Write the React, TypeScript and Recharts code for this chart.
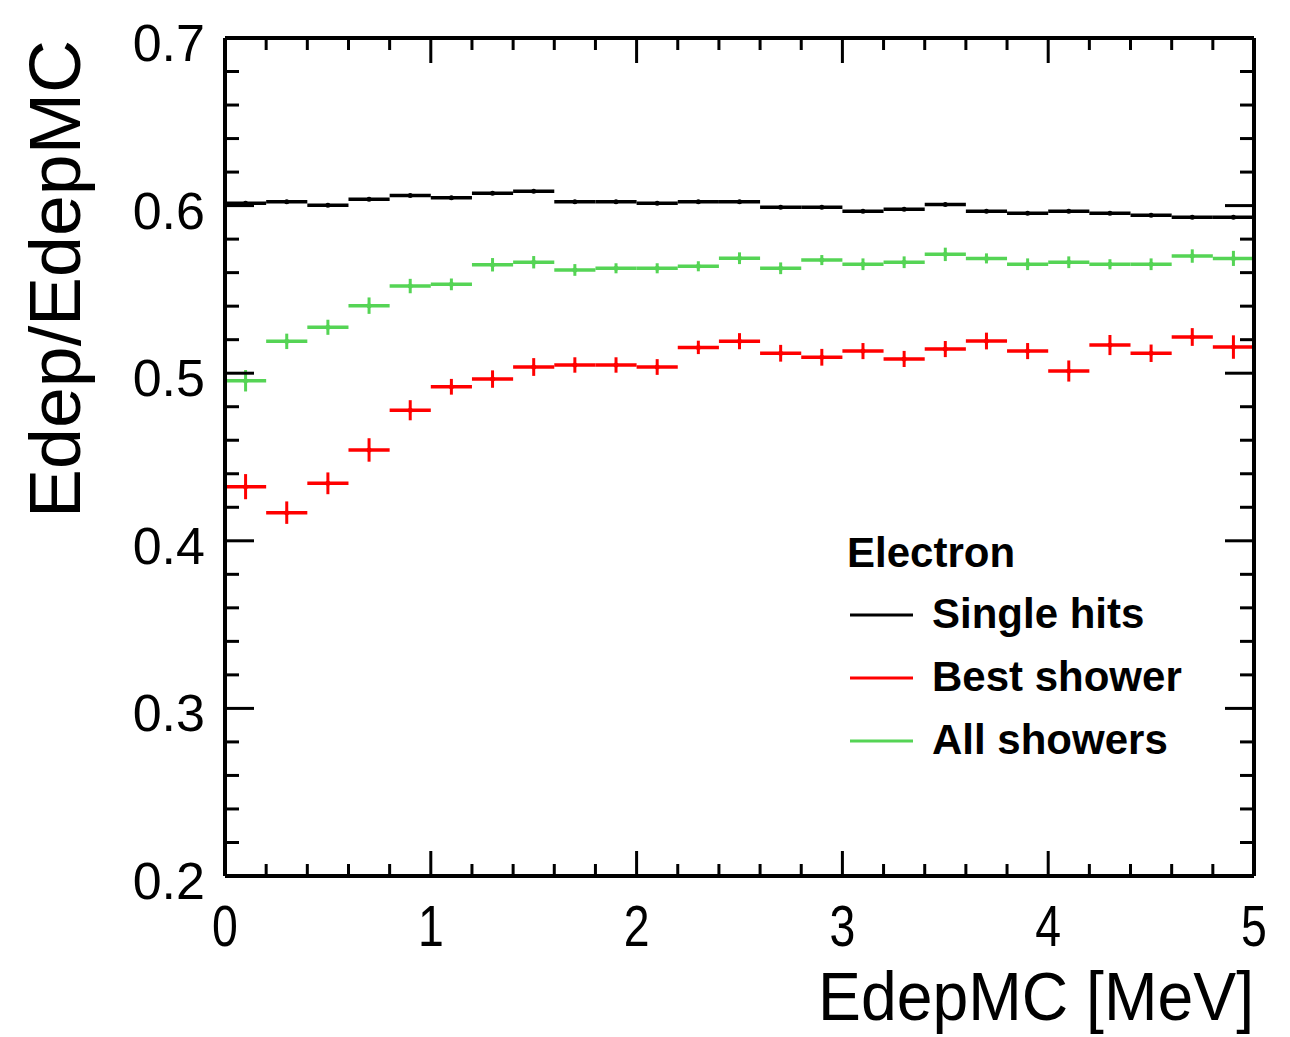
import { ScatterChart, Scatter, XAxis, YAxis, ErrorBar } from 'recharts';

// bin centres, 25 bins of 0.2 MeV
const binCenters = [
  0.1, 0.3, 0.5, 0.7, 0.9, 1.1, 1.3, 1.5, 1.7, 1.9, 2.1, 2.3, 2.5,
  2.7, 2.9, 3.1, 3.3, 3.5, 3.7, 3.9, 4.1, 4.3, 4.5, 4.7, 4.9,
];
const binHalfWidth = 0.1;

const singleHits = [
  0.6014, 0.6023, 0.6002, 0.6038, 0.6061, 0.6047, 0.6073, 0.6085, 0.6023, 0.6023, 0.6014, 0.6023, 0.6023,
  0.599, 0.599, 0.5966, 0.5978, 0.6006, 0.5966, 0.5954, 0.5966, 0.5954, 0.5942, 0.593, 0.593,
];
const singleHitsErr = [
  0.001, 0.0009, 0.0009, 0.0009, 0.0008, 0.0008, 0.0008, 0.0008, 0.0008, 0.0008, 0.0008, 0.0008, 0.0008,
  0.0008, 0.0008, 0.0008, 0.0008, 0.0008, 0.0008, 0.0008, 0.0008, 0.0008, 0.0008, 0.0009, 0.0009,
];

const bestShower = [
  0.4323, 0.4168, 0.4343, 0.4542, 0.4779, 0.4919, 0.4965, 0.5037, 0.5049, 0.5049, 0.5037, 0.5154, 0.5191,
  0.5119, 0.5095, 0.5132, 0.5085, 0.5144, 0.5192, 0.5132, 0.5013, 0.5168, 0.5119, 0.5216, 0.5156,
];
const bestShowerErr = [
  0.0075, 0.0067, 0.0065, 0.007, 0.006, 0.0047, 0.0052, 0.0053, 0.0046, 0.0046, 0.0047, 0.004, 0.0048,
  0.005, 0.005, 0.0048, 0.0048, 0.0048, 0.005, 0.0048, 0.0063, 0.006, 0.0052, 0.0053, 0.007,
];

const allShowers = [
  0.4955, 0.519, 0.5274, 0.5403, 0.552, 0.553, 0.5647, 0.5662, 0.5616, 0.5626, 0.5626, 0.5638, 0.5686,
  0.5626, 0.5675, 0.565, 0.5662, 0.5709, 0.5685, 0.565, 0.5662, 0.565, 0.565, 0.5699, 0.5685,
];
const allShowersErr = [
  0.0064, 0.0046, 0.0045, 0.0049, 0.0043, 0.0035, 0.004, 0.0037, 0.0035, 0.003, 0.003, 0.003, 0.0035,
  0.0035, 0.003, 0.0035, 0.0035, 0.004, 0.003, 0.0035, 0.0035, 0.003, 0.0035, 0.004, 0.0045,
];

const xMajorTicks = [0, 1, 2, 3, 4, 5];
const yMajorTicks = [0.2, 0.3, 0.4, 0.5, 0.6, 0.7];
// minor ticks every 0.2 on x, 0.02 on y
const xTicks = Array.from({ length: 26 }, (_, i) => i / 5);
const yTicks = Array.from({ length: 26 }, (_, i) => (20 + 2 * i) / 100);

const legendTitle = 'Electron';
const seriesNames = ['Single hits', 'Best shower', 'All showers'];
const seriesColors = ['#000000', '#ff0000', '#55d455'];

const toPoints = (vals: number[], errs: number[]) =>
  binCenters.map((x, i) => ({ x, y: vals[i], xerr: binHalfWidth, yerr: errs[i] }));

const series = [
  toPoints(singleHits, singleHitsErr),
  toPoints(bestShower, bestShowerErr),
  toPoints(allShowers, allShowersErr),
];

const W = 1290;
const H = 1037;
const sans = '"Liberation Sans", Arial, Helvetica, sans-serif';

const near = (v: number, list: number[]) => list.some((m) => Math.abs(m - v) < 1e-6);

const BottomTick = ({ x, y, payload }: any) => {
  const major = near(payload.value, xMajorTicks);
  return (
    <g>
      <line x1={x} x2={x} y1={y} y2={y - (major ? 25 : 12)} stroke="#000" strokeWidth={3} />
      {major && (
        // the reference digits are condensed
        <text
          transform={`translate(${x} ${y + 70}) scale(0.8 1)`}
          textAnchor="middle"
          fontFamily={sans}
          fontSize={58}
          fill="#000"
        >
          {payload.value}
        </text>
      )}
    </g>
  );
};

const TopTick = ({ x, y, payload }: any) => {
  const major = near(payload.value, xMajorTicks);
  return <line x1={x} x2={x} y1={y} y2={y + (major ? 25 : 12)} stroke="#000" strokeWidth={3} />;
};

const LeftTick = ({ x, y, payload }: any) => {
  const major = near(payload.value, yMajorTicks);
  return (
    <g>
      <line x1={x} x2={x + (major ? 29 : 14)} y1={y} y2={y} stroke="#000" strokeWidth={3} />
      {major && (
        <text x={x - 20} y={y + 23} textAnchor="end" fontFamily={sans} fontSize={52} fill="#000">
          {payload.value.toFixed(1)}
        </text>
      )}
    </g>
  );
};

const RightTick = ({ x, y, payload }: any) => {
  const major = near(payload.value, yMajorTicks);
  return <line x1={x} x2={x - (major ? 29 : 14)} y1={y} y2={y} stroke="#000" strokeWidth={3} />;
};

const Dot = (color: string) => (props: any) => <circle cx={props.cx} cy={props.cy} r={2.5} fill={color} />;

const App = () => {
  return (
    <div style={{ position: 'absolute', left: 0, top: 0, width: W, height: H, background: '#fff' }}>
      <ScatterChart width={W} height={H} margin={{ top: 0, right: 0, bottom: 0, left: 0 }}>
        <XAxis
          xAxisId="b"
          type="number"
          dataKey="x"
          domain={[0, 5]}
          allowDataOverflow
          ticks={xTicks}
          interval={0}
          tick={<BottomTick />}
          tickLine={false}
          tickSize={0}
          tickMargin={0}
          height={161}
          axisLine={{ stroke: '#000', strokeWidth: 4 }}
        />
        <XAxis
          xAxisId="t"
          orientation="top"
          type="number"
          dataKey="x"
          domain={[0, 5]}
          allowDataOverflow
          ticks={xTicks}
          interval={0}
          tick={<TopTick />}
          tickLine={false}
          tickSize={0}
          tickMargin={0}
          height={38}
          axisLine={{ stroke: '#000', strokeWidth: 4 }}
        />
        <YAxis
          yAxisId="l"
          type="number"
          dataKey="y"
          domain={[0.2, 0.7]}
          allowDataOverflow
          ticks={yTicks}
          interval={0}
          tick={<LeftTick />}
          tickLine={false}
          tickSize={0}
          tickMargin={0}
          width={225}
          axisLine={{ stroke: '#000', strokeWidth: 4 }}
        />
        <YAxis
          yAxisId="r"
          orientation="right"
          type="number"
          dataKey="y"
          domain={[0.2, 0.7]}
          allowDataOverflow
          ticks={yTicks}
          interval={0}
          tick={<RightTick />}
          tickLine={false}
          tickSize={0}
          tickMargin={0}
          width={36}
          axisLine={{ stroke: '#000', strokeWidth: 4 }}
        />
        {/* invisible copy so the top/right frame axes get a domain */}
        <Scatter
          data={series[0]}
          xAxisId="t"
          yAxisId="r"
          shape={() => <g />}
          legendType="none"
          isAnimationActive={false}
        />
        {series.map((pts, i) => (
          <Scatter
            key={seriesNames[i]}
            name={seriesNames[i]}
            data={pts}
            xAxisId="b"
            yAxisId="l"
            fill={seriesColors[i]}
            shape={Dot(seriesColors[i])}
            isAnimationActive={false}
          >
            <ErrorBar dataKey="xerr" direction="x" width={0} stroke={seriesColors[i]} strokeWidth={3.5} />
            <ErrorBar dataKey="yerr" direction="y" width={0} stroke={seriesColors[i]} strokeWidth={3} />
          </Scatter>
        ))}
      </ScatterChart>

      <svg
        width={W}
        height={H}
        style={{ position: 'absolute', left: 0, top: 0, pointerEvents: 'none' }}
      >
        <text
          x={80}
          y={40}
          transform="rotate(-90 80 40)"
          textAnchor="end"
          fontFamily={sans}
          fontSize={72}
          textLength={478}
          lengthAdjust="spacingAndGlyphs"
          fill="#000"
        >
          Edep/EdepMC
        </text>
        <text
          x={818}
          y={1020}
          fontFamily={sans}
          fontSize={68}
          textLength={436}
          lengthAdjust="spacingAndGlyphs"
          fill="#000"
        >
          EdepMC [MeV]
        </text>

        <text x={847} y={567} fontFamily={sans} fontWeight="bold" fontSize={42} fill="#000">
          {legendTitle}
        </text>
        {seriesNames.map((name, i) => (
          <g key={name}>
            <line x1={850} x2={913} y1={615 + i * 63} y2={615 + i * 63} stroke={seriesColors[i]} strokeWidth={3} />
            <text x={932} y={628 + i * 63} fontFamily={sans} fontWeight="bold" fontSize={42} fill="#000">
              {name}
            </text>
          </g>
        ))}
      </svg>
    </div>
  );
};

export default App;
